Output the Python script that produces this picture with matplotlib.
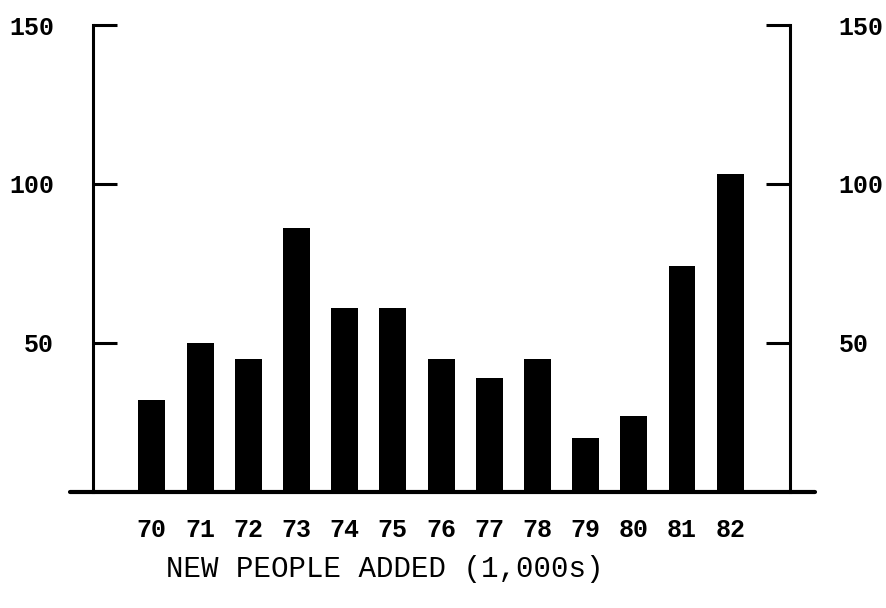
import numpy as np
import matplotlib
matplotlib.use("Agg")
import matplotlib.pyplot as plt

plt.rcParams['font.family'] = ['Liberation Mono', 'DejaVu Sans Mono']

# data
years = ["70", "71", "72", "73", "74", "75", "76", "77", "78", "79", "80", "81", "82"]
added = [32, 50, 45, 86, 61, 61, 45, 39, 45, 20, 27, 74, 103]
yticks = [50, 100, 150]

fig = plt.figure(figsize=(8.86, 6.08), dpi=100)
ax = fig.add_axes([0.105, 0.1908, 0.7866, 0.768])

x = np.arange(len(years))
ax.bar(x, added, width=0.56, color="black")

ax.set_xlim(-1.22, 13.24)
ax.set_ylim(3, 150)

# left/right spines only, baseline drawn wider than the axes
ax.spines["top"].set_visible(False)
ax.spines["bottom"].set_visible(False)
ax.spines["right"].set_visible(False)
ax.spines["left"].set_linewidth(2.2)
ax.plot([-0.033, 1.036], [0, 0], transform=ax.transAxes, color="black",
        lw=3, clip_on=False, solid_capstyle="round")

ax.set_yticks(yticks)
ax.set_yticklabels([str(v) for v in yticks], fontsize=18, fontweight="bold")
ax.tick_params(axis="y", direction="in", length=17, width=2.2, pad=28)

# right scale
ax2 = ax.twinx()
ax2.set_ylim(ax.get_ylim())
for s in ["top", "bottom", "left"]:
    ax2.spines[s].set_visible(False)
ax2.spines["right"].set_linewidth(2.2)
ax2.set_yticks(yticks)
ax2.set_yticklabels([str(v) for v in yticks], fontsize=18, fontweight="bold")
ax2.tick_params(axis="y", direction="in", length=17, width=2.2, pad=35)

ax.set_xticks(x)
ax.set_xticklabels(years, fontsize=18, fontweight="bold")
ax.tick_params(axis="x", length=0, pad=19)

ax.set_xlabel("NEW PEOPLE ADDED (1,000s)", fontsize=21, labelpad=4)
ax.xaxis.set_label_coords(0.419, -0.135)

fig.savefig("out.png", dpi=100, facecolor="white")
